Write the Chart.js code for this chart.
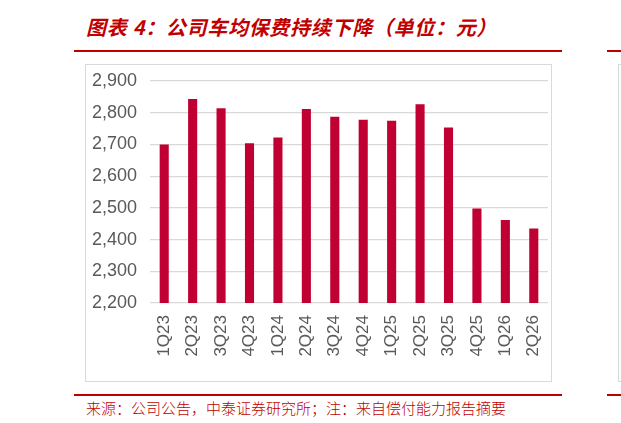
<!DOCTYPE html>
<html>
<head>
<meta charset="utf-8">
<script src="https://cdn.jsdelivr.net/npm/chart.js@4/dist/chart.umd.min.js"></script>
<style>
  html, body { margin: 0; padding: 0; background: #fff; }
  body { width: 621px; height: 423px; position: relative; overflow: hidden; }
  .title {
    position: absolute; left: 86px; top: 12px;
    font: italic bold 20px "Noto Sans CJK SC", sans-serif;
    color: #c00000; white-space: nowrap; letter-spacing: 0.7px;
  }
  .rule { position: absolute; height: 2px; background: #c00000; }
  .box { position: absolute; border: 1px solid #d9d9d9; box-sizing: border-box; }
  .source {
    position: absolute; left: 86px; top: 397px;
    font: 15px "Noto Sans CJK SC", sans-serif; font-weight: 300;
    color: #c00000; white-space: nowrap;
  }
  #wrap { position: absolute; left: 86px; top: 65px; width: 464px; height: 316px; }
</style>
</head>
<body>
<div class="title">图表 4：公司车均保费持续下降（单位：元）</div>
<div class="rule" style="left:74px; top:50px; width:488px;"></div>
<div class="rule" style="left:607px; top:50px; width:14px;"></div>
<div class="box" style="left:85px; top:64px; width:467px; height:318px;"></div>
<div class="box" style="left:618px; top:64px; width:20px; height:318px;"></div>
<div id="wrap"><canvas id="premiumChart"></canvas></div>
<div class="rule" style="left:74px; top:394px; width:488px;"></div>
<div class="rule" style="left:607px; top:394px; width:14px;"></div>
<div class="source">来源：公司公告，中泰证券研究所；注：来自偿付能力报告摘要</div>

<script>
// 季度
const quarters = ['1Q23', '2Q23', '3Q23', '4Q23', '1Q24', '2Q24', '3Q24',
  '4Q24', '1Q25', '2Q25', '3Q25', '4Q25', '1Q26', '2Q26'];
// 车均保费（元）
const avgPremium = [2700, 2843, 2814, 2704, 2722, 2812, 2787,
  2778, 2775, 2827, 2753, 2498, 2462, 2435];
// 纵轴范围
const yMin = 2200;
const yMax = 2900;
const yStep = 100;

const BAR_COLOR = '#c00032';
const GRID_COLOR = '#d9d9d9';
const TICK_COLOR = '#595959';

const canvas = document.getElementById('premiumChart');
new Chart(canvas, {
  type: 'bar',
  data: {
    labels: quarters,
    datasets: [{
      data: avgPremium,
      backgroundColor: BAR_COLOR,
      barPercentage: 0.32,
      categoryPercentage: 1,
    }]
  },
  options: {
    responsive: true,
    maintainAspectRatio: false,
    animation: false,
    layout: { padding: { top: 16, right: 2, bottom: 0, left: 0 } },
    plugins: { legend: { display: false }, tooltip: { enabled: false } },
    scales: {
      x: {
        grid: { display: false, drawTicks: false },
        border: { display: false },
        ticks: {
          color: TICK_COLOR,
          font: { family: 'Liberation Sans', size: 17 },
          minRotation: 90, maxRotation: 90,
          padding: 12,
          autoSkip: false,
        },
        afterFit: s => {
          s.height = 78;
          s.paddingLeft = 0;
          s.paddingRight = 0;
        }
      },
      y: {
        min: yMin, max: yMax,
        grid: { color: GRID_COLOR, lineWidth: 1.2, drawTicks: false },
        border: { display: false },
        ticks: {
          stepSize: yStep,
          color: TICK_COLOR,
          font: { family: 'Liberation Sans', size: 18 },
          padding: 13,
          callback: v => v.toLocaleString('en-US'),
        },
        afterFit: s => {
          s.width = 64;
          s.paddingTop = 0;
          s.paddingBottom = 0;
        }
      }
    }
  }
});
</script>
</body>
</html>
